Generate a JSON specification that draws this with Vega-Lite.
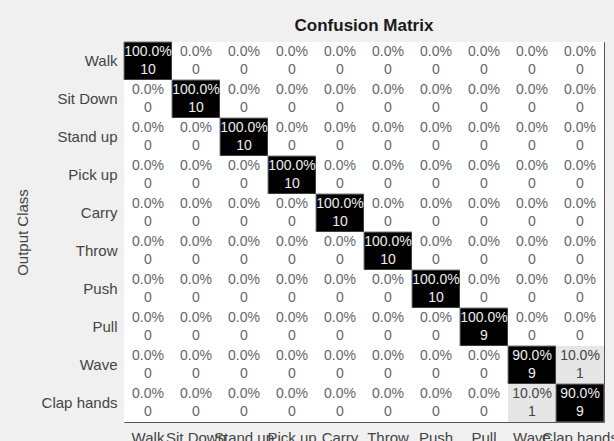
{
  "$schema": "https://vega.github.io/schema/vega-lite/v6.json",
  "autosize": {"type": "none"},
  "padding": {"left": 124, "top": 42, "right": 10, "bottom": 19},
  "width": 480,
  "height": 380,
  "background": "#f0f0f0",
  "config": {
    "font": "Liberation Sans",
    "view": {"stroke": "#555555", "strokeWidth": 1}
  },
  "title": {
    "text": "Confusion Matrix",
    "fontSize": 17,
    "fontWeight": "bold",
    "color": "#1a1a1a",
    "anchor": "middle",
    "baseline": "alphabetic",
    "frame": "group",
    "offset": 10,
    "dy": 16
  },
  "data": {
    "values": [
      {"r":"Walk","c":"Walk","pct":1,"n":10},{"r":"Walk","c":"Sit Down","pct":0,"n":0},{"r":"Walk","c":"Stand up","pct":0,"n":0},{"r":"Walk","c":"Pick up","pct":0,"n":0},{"r":"Walk","c":"Carry","pct":0,"n":0},{"r":"Walk","c":"Throw","pct":0,"n":0},{"r":"Walk","c":"Push","pct":0,"n":0},{"r":"Walk","c":"Pull","pct":0,"n":0},{"r":"Walk","c":"Wave","pct":0,"n":0},{"r":"Walk","c":"Clap hands","pct":0,"n":0},
      {"r":"Sit Down","c":"Walk","pct":0,"n":0},{"r":"Sit Down","c":"Sit Down","pct":1,"n":10},{"r":"Sit Down","c":"Stand up","pct":0,"n":0},{"r":"Sit Down","c":"Pick up","pct":0,"n":0},{"r":"Sit Down","c":"Carry","pct":0,"n":0},{"r":"Sit Down","c":"Throw","pct":0,"n":0},{"r":"Sit Down","c":"Push","pct":0,"n":0},{"r":"Sit Down","c":"Pull","pct":0,"n":0},{"r":"Sit Down","c":"Wave","pct":0,"n":0},{"r":"Sit Down","c":"Clap hands","pct":0,"n":0},
      {"r":"Stand up","c":"Walk","pct":0,"n":0},{"r":"Stand up","c":"Sit Down","pct":0,"n":0},{"r":"Stand up","c":"Stand up","pct":1,"n":10},{"r":"Stand up","c":"Pick up","pct":0,"n":0},{"r":"Stand up","c":"Carry","pct":0,"n":0},{"r":"Stand up","c":"Throw","pct":0,"n":0},{"r":"Stand up","c":"Push","pct":0,"n":0},{"r":"Stand up","c":"Pull","pct":0,"n":0},{"r":"Stand up","c":"Wave","pct":0,"n":0},{"r":"Stand up","c":"Clap hands","pct":0,"n":0},
      {"r":"Pick up","c":"Walk","pct":0,"n":0},{"r":"Pick up","c":"Sit Down","pct":0,"n":0},{"r":"Pick up","c":"Stand up","pct":0,"n":0},{"r":"Pick up","c":"Pick up","pct":1,"n":10},{"r":"Pick up","c":"Carry","pct":0,"n":0},{"r":"Pick up","c":"Throw","pct":0,"n":0},{"r":"Pick up","c":"Push","pct":0,"n":0},{"r":"Pick up","c":"Pull","pct":0,"n":0},{"r":"Pick up","c":"Wave","pct":0,"n":0},{"r":"Pick up","c":"Clap hands","pct":0,"n":0},
      {"r":"Carry","c":"Walk","pct":0,"n":0},{"r":"Carry","c":"Sit Down","pct":0,"n":0},{"r":"Carry","c":"Stand up","pct":0,"n":0},{"r":"Carry","c":"Pick up","pct":0,"n":0},{"r":"Carry","c":"Carry","pct":1,"n":10},{"r":"Carry","c":"Throw","pct":0,"n":0},{"r":"Carry","c":"Push","pct":0,"n":0},{"r":"Carry","c":"Pull","pct":0,"n":0},{"r":"Carry","c":"Wave","pct":0,"n":0},{"r":"Carry","c":"Clap hands","pct":0,"n":0},
      {"r":"Throw","c":"Walk","pct":0,"n":0},{"r":"Throw","c":"Sit Down","pct":0,"n":0},{"r":"Throw","c":"Stand up","pct":0,"n":0},{"r":"Throw","c":"Pick up","pct":0,"n":0},{"r":"Throw","c":"Carry","pct":0,"n":0},{"r":"Throw","c":"Throw","pct":1,"n":10},{"r":"Throw","c":"Push","pct":0,"n":0},{"r":"Throw","c":"Pull","pct":0,"n":0},{"r":"Throw","c":"Wave","pct":0,"n":0},{"r":"Throw","c":"Clap hands","pct":0,"n":0},
      {"r":"Push","c":"Walk","pct":0,"n":0},{"r":"Push","c":"Sit Down","pct":0,"n":0},{"r":"Push","c":"Stand up","pct":0,"n":0},{"r":"Push","c":"Pick up","pct":0,"n":0},{"r":"Push","c":"Carry","pct":0,"n":0},{"r":"Push","c":"Throw","pct":0,"n":0},{"r":"Push","c":"Push","pct":1,"n":10},{"r":"Push","c":"Pull","pct":0,"n":0},{"r":"Push","c":"Wave","pct":0,"n":0},{"r":"Push","c":"Clap hands","pct":0,"n":0},
      {"r":"Pull","c":"Walk","pct":0,"n":0},{"r":"Pull","c":"Sit Down","pct":0,"n":0},{"r":"Pull","c":"Stand up","pct":0,"n":0},{"r":"Pull","c":"Pick up","pct":0,"n":0},{"r":"Pull","c":"Carry","pct":0,"n":0},{"r":"Pull","c":"Throw","pct":0,"n":0},{"r":"Pull","c":"Push","pct":0,"n":0},{"r":"Pull","c":"Pull","pct":1,"n":9},{"r":"Pull","c":"Wave","pct":0,"n":0},{"r":"Pull","c":"Clap hands","pct":0,"n":0},
      {"r":"Wave","c":"Walk","pct":0,"n":0},{"r":"Wave","c":"Sit Down","pct":0,"n":0},{"r":"Wave","c":"Stand up","pct":0,"n":0},{"r":"Wave","c":"Pick up","pct":0,"n":0},{"r":"Wave","c":"Carry","pct":0,"n":0},{"r":"Wave","c":"Throw","pct":0,"n":0},{"r":"Wave","c":"Push","pct":0,"n":0},{"r":"Wave","c":"Pull","pct":0,"n":0},{"r":"Wave","c":"Wave","pct":0.9,"n":9},{"r":"Wave","c":"Clap hands","pct":0.1,"n":1},
      {"r":"Clap hands","c":"Walk","pct":0,"n":0},{"r":"Clap hands","c":"Sit Down","pct":0,"n":0},{"r":"Clap hands","c":"Stand up","pct":0,"n":0},{"r":"Clap hands","c":"Pick up","pct":0,"n":0},{"r":"Clap hands","c":"Carry","pct":0,"n":0},{"r":"Clap hands","c":"Throw","pct":0,"n":0},{"r":"Clap hands","c":"Push","pct":0,"n":0},{"r":"Clap hands","c":"Pull","pct":0,"n":0},{"r":"Clap hands","c":"Wave","pct":0.1,"n":1},{"r":"Clap hands","c":"Clap hands","pct":0.9,"n":9}
    ]
  },
  "encoding": {
    "x": {
      "field": "c", "type": "nominal",
      "sort": ["Walk","Sit Down","Stand up","Pick up","Carry","Throw","Push","Pull","Wave","Clap hands"],
      "scale": {"paddingInner": 0, "paddingOuter": 0},
      "axis": {"orient": "bottom", "title": null, "labelAngle": 0, "labelOverlap": false, "labelBound": false, "labelLimit": 0, "domain": false, "ticks": false, "labelPadding": 8, "labelFontSize": 15, "labelColor": "#444444", "labelBaseline": "top"}
    },
    "y": {
      "field": "r", "type": "nominal",
      "sort": ["Walk","Sit Down","Stand up","Pick up","Carry","Throw","Push","Pull","Wave","Clap hands"],
      "scale": {"paddingInner": 0, "paddingOuter": 0},
      "axis": {"title": "Output Class", "domain": false, "ticks": false, "labelPadding": 7, "labelFontSize": 15, "labelColor": "#444444", "labelLimit": 0, "titleFontSize": 15, "titleFontWeight": "normal", "titleColor": "#444444", "titlePadding": 11}
    }
  },
  "layer": [
    {
      "mark": {"type": "rect", "stroke": "#7a7a7a"},
      "encoding": {
        "color": {
          "field": "pct", "type": "quantitative",
          "scale": {"type": "threshold", "domain": [0.05, 0.5], "range": ["#ffffff", "#e6e6e6", "#000000"]},
          "legend": null
        },
        "strokeWidth": {"condition": {"test": "datum.pct > 0.5", "value": 1}, "value": 0}
      }
    },
    {
      "mark": {"type": "text", "fontSize": 14, "dy": -9, "baseline": "middle"},
      "encoding": {
        "text": {"field": "pct", "type": "quantitative", "format": ".1%"},
        "color": {"condition": [{"test": "datum.pct > 0.5", "value": "#eeeeee"}, {"test": "datum.pct > 0.05", "value": "#444444"}], "value": "#666666"}
      }
    },
    {
      "mark": {"type": "text", "fontSize": 14, "dy": 9, "baseline": "middle"},
      "encoding": {
        "text": {"field": "n", "type": "quantitative"},
        "color": {"condition": [{"test": "datum.pct > 0.5", "value": "#eeeeee"}, {"test": "datum.pct > 0.05", "value": "#444444"}], "value": "#666666"}
      }
    }
  ]
}
